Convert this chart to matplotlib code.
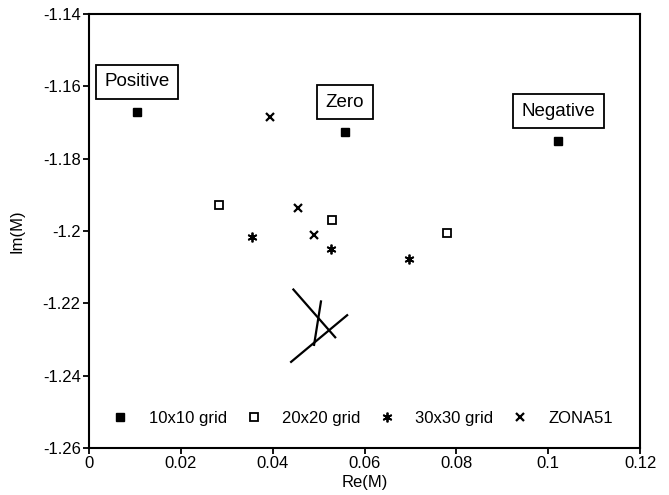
import numpy as np
import matplotlib
matplotlib.use('Agg')
import matplotlib.pyplot as plt

plt.rcParams['font.family'] = ['Liberation Sans', 'DejaVu Sans']
plt.rcParams['font.size'] = 12

# values (Re(M), Im(M))
grid10_re = [0.0105, 0.0557, 0.1022]
grid10_im = [-1.1671, -1.1727, -1.1752]
grid10_names = ['Positive', 'Zero', 'Negative']

grid20_re = [0.0284, 0.0530, 0.0780]
grid20_im = [-1.1929, -1.1971, -1.2006]

grid30_re = [0.0355, 0.0527, 0.0697]
grid30_im = [-1.2018, -1.2049, -1.2078]

zona_re = [0.0395, 0.0454, 0.0490]
zona_im = [-1.1686, -1.1937, -1.2012]

# three short line segments near the bottom
seg_re = [[0.0445, 0.0536], [0.0505, 0.0490], [0.0440, 0.0562]]
seg_im = [[-1.2162, -1.2294], [-1.2195, -1.2315], [-1.2362, -1.2233]]

fig = plt.figure(figsize=(6.69, 4.95), dpi=100)
ax = fig.add_axes([0.133, 0.095, 0.824, 0.877])

ax.plot(grid10_re, grid10_im, 's', color='black', ms=5.5, label='10x10 grid')
ax.plot(grid20_re, grid20_im, 's', mfc='white', mec='black', mew=1.3, ms=5.5, label='20x20 grid')
ax.plot(grid30_re, grid30_im, ls='none', marker=(6, 2, 0), color='black', mew=1.3, ms=7, label='30x30 grid')
ax.plot(zona_re, zona_im, 'x', color='black', mew=1.6, ms=6, label='ZONA51')

for r, i in zip(seg_re, seg_im):
    ax.plot(r, i, color='black', lw=1.6)

for name, r, i in zip(grid10_names, grid10_re, grid10_im):
    ax.annotate(name, xy=(r, i), xytext=(0, 30), textcoords='offset pixels',
                ha='center', va='center', fontsize=13.5,
                bbox=dict(boxstyle='square,pad=0.45', fc='white', ec='black', lw=1.3))

ax.set_xlim(0, 0.12)
ax.set_ylim(-1.26, -1.14)
ax.set_xticks(np.arange(0, 0.121, 0.02))
ax.set_yticks(np.arange(-1.26, -1.139, 0.02))
ax.xaxis.set_major_formatter(plt.FuncFormatter(lambda v, p: f'{round(v, 3):g}'))
ax.yaxis.set_major_formatter(plt.FuncFormatter(lambda v, p: f'{round(v, 3):g}'))
ax.tick_params(direction='out', length=4, width=1.3, pad=2)
for s in ax.spines.values():
    s.set_linewidth(1.5)

ax.set_xlabel('Re(M)', labelpad=3)
ax.set_ylabel('Im(M)', labelpad=13)

ax.legend(loc='center left', bbox_to_anchor=(0.042, 0.069), ncol=4, frameon=False,
          borderpad=0, borderaxespad=0, handlelength=1, handletextpad=1.2,
          columnspacing=1.1, numpoints=1, fontsize=12)

fig.savefig('out.png', dpi=100)
